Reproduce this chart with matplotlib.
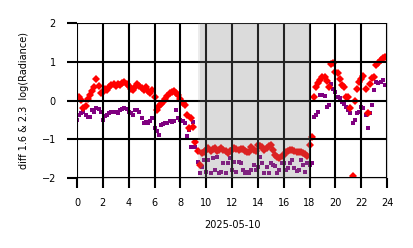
import numpy as np
import matplotlib
matplotlib.use("Agg")
import matplotlib.pyplot as plt

# hours of day, sampled every 10 minutes
hours = np.arange(144) / 6.0

red_vals = [
    0.10, 0.08, 0.02, -0.20, -0.15, 0.05,
    0.14, 0.25, 0.36, 0.55, 0.38, 0.20,
    0.22, 0.31, 0.27, 0.35, 0.40, 0.43,
    0.37, 0.44, 0.40, 0.45, 0.49, 0.43,
    0.37, 0.30, 0.27, 0.36, 0.43, 0.38,
    0.32, 0.27, 0.34, 0.25, 0.19, 0.27,
    0.10, -0.25, -0.15, -0.10, -0.03, 0.05,
    0.12, 0.19, 0.22, 0.24, 0.20, 0.15,
    0.05, -0.05, -0.12, -0.37, -0.72, -0.45,
    -0.68, -1.06, -1.30, -1.65, -1.36, -1.32,
    -1.28, -1.23, -1.30, -1.26, -1.23, -1.30,
    -1.27, -1.23, -1.28, -1.30, -1.36, -1.30,
    -1.28, -1.23, -1.26, -1.28, -1.24, -1.26,
    -1.29, -1.34, -1.33, -1.20, -1.28, -1.30,
    -1.15, -1.18, -1.20, -1.28, -1.22, -1.18,
    -1.15, -1.27, -1.40, -1.45, -1.49, -1.44,
    -1.40, -1.33, -1.30, -1.28, -1.28, -1.30,
    -1.32, -1.32, -1.33, -1.36, -1.38, -1.42,
    -1.15, -0.95, 0.10, 0.34, 0.45, 0.53,
    0.60, 0.62, 0.50, 0.36, 0.94, 0.96,
    0.74, 0.70, 0.55, 0.40, 0.36, 0.10,
    0.08, -0.20, -1.95, 0.00, 0.31, 0.49,
    0.55, 0.63, 0.31, -0.33, 0.44, 0.57,
    0.60, 0.92, 0.96, 1.05, 1.10, 1.13,
]

purple_vals = [
    -0.50, -0.37, -0.33, -0.29, -0.37, -0.42,
    -0.42, -0.25, -0.30, -0.20, -0.23, -0.30,
    -0.50, -0.40, -0.37, -0.33, -0.30, -0.29,
    -0.30, -0.32, -0.25, -0.22, -0.18, -0.22,
    -0.30, -0.33, -0.37, -0.25, -0.25, -0.30,
    -0.45, -0.57, -0.55, -0.57, -0.52, -0.46,
    -0.72, -0.78, -0.89, -0.63, -0.60, -0.57,
    -0.58, -0.52, -0.55, -0.52, -0.25, -0.45,
    -0.50, -0.52, -0.59, -0.92, -0.76, -1.19,
    -0.55, -1.19, -1.58, -1.88, -1.71, -1.54,
    -1.84, -1.54, -1.86, -1.49, -1.80, -1.45,
    -1.86, -1.84, -1.62, -1.88, -1.60, -1.49,
    -1.79, -1.58, -1.84, -1.58, -1.60, -1.79,
    -1.88, -1.85, -1.88, -1.79, -1.66, -1.79,
    -1.72, -1.45, -1.60, -1.88, -1.71, -1.88,
    -1.62, -1.66, -1.70, -1.88, -1.80, -1.62,
    -1.62, -1.79, -1.75, -1.62, -1.54, -1.75,
    -1.82, -1.79, -1.54, -1.65, -1.84, -1.62,
    -1.65, -1.62, -0.42, -0.37, -0.30, 0.14,
    0.14, 0.12, -0.16, -0.12, 0.44, 0.30,
    0.23, 0.10, 0.06, -0.03, -0.10, -0.16,
    -0.25, -0.33, -0.59, -0.50, -0.33, -0.29,
    -0.16, -0.20, -0.37, -0.72, -0.33, -0.12,
    0.27, 0.49, 0.45, 0.48, 0.53, 0.40,
]

span_outer = (9.33, 18.0)
span_inner = (9.5, 18.0)
xticks = list(range(0, 25, 2))
yticks = [-2, -1, 0, 1, 2]

fig = plt.figure(figsize=(4.14, 2.48), dpi=100)
ax = fig.add_axes([0.186, 0.282, 0.749, 0.625])

ax.plot(hours, purple_vals, linestyle="none", marker="s", ms=2.7,
        mew=0, color="#800080", zorder=2)
ax.plot(hours, red_vals, linestyle="none", marker="D", ms=3.6,
        mew=0, color="#ff0000", zorder=2)

ax.axvspan(*span_outer, color="gray", alpha=0.15, lw=0, zorder=3)
ax.axvspan(*span_inner, color="gray", alpha=0.15, lw=0, zorder=3)

ax.set_xlim(0, 24)
ax.set_ylim(-2, 2)
ax.set_xticks(xticks)
ax.set_yticks(yticks)
ax.grid(True, color="black", lw=1.5, zorder=4)
ax.set_axisbelow(False)
for s in ax.spines.values():
    s.set_color("#cccccc")
    s.set_linewidth(0.8)
ax.tick_params(direction="out", length=7.2, width=1.5, color="black",
               labelsize=7)
ax.tick_params(axis="x", pad=7)
ax.tick_params(axis="y", pad=8)
ax.set_xlabel("2025-05-10", fontsize=7, labelpad=9)
ax.set_ylabel("diff 1.6 & 2.3  log(Radiance)", fontsize=7, labelpad=9)

fig.savefig("out.png", dpi=100)
